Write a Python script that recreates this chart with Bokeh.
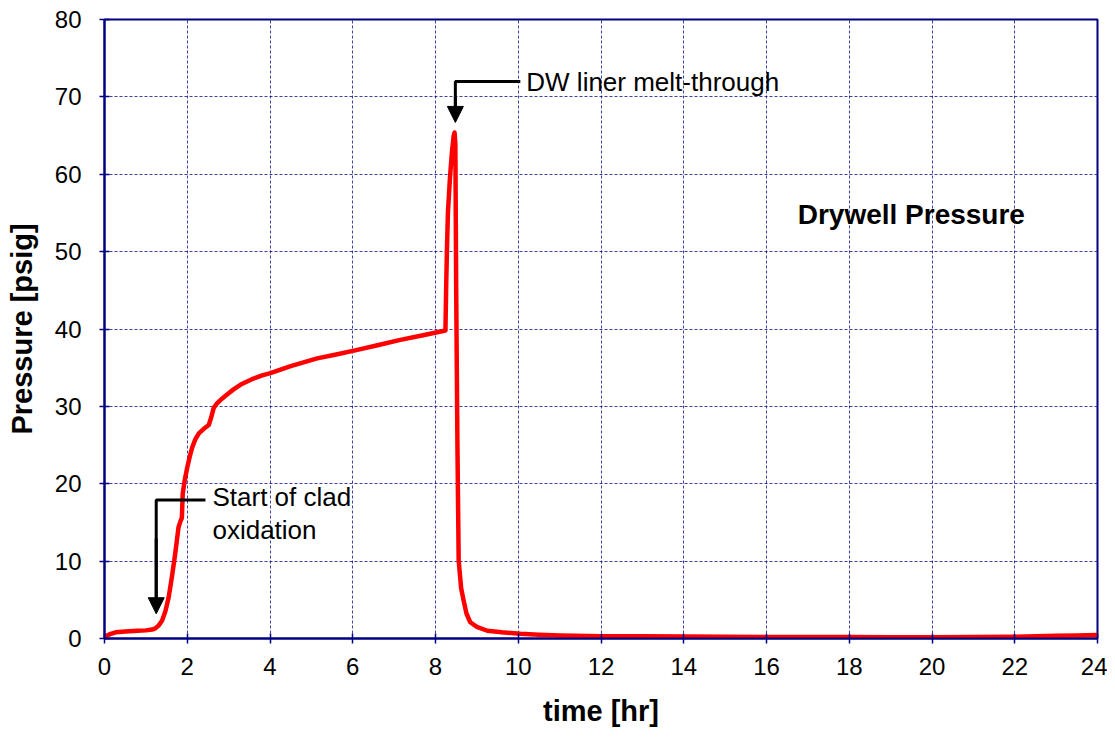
from bokeh.plotting import figure
from bokeh.models import Range1d, Label, Arrow, NormalHead, FixedTicker
from bokeh.embed import file_html
from bokeh.resources import INLINE

# Drywell pressure [psig] vs time [hr]
time_hr = [0.0, 0.05, 0.15, 0.27, 0.5, 0.8, 1.0, 1.15, 1.23, 1.31, 1.39, 1.47, 1.55, 1.63, 1.71,
           1.79, 1.84, 1.87, 1.89, 1.94, 2.0, 2.06, 2.12, 2.2, 2.28, 2.4, 2.52, 2.58, 2.64, 2.72,
           2.84, 3.0, 3.12, 3.32, 3.6, 3.81, 4.01, 4.5, 5.14, 5.6, 6.03, 6.6, 7.15, 7.7, 8.24,
           8.26, 8.28, 8.3, 8.35, 8.4, 8.44, 8.46, 8.48, 8.5, 8.53, 8.56, 8.62, 8.68, 8.75, 8.84,
           9.0, 9.25, 9.6, 10.05, 10.5, 11.0, 12.0, 13.0, 14.0, 15.0, 16.0, 17.0, 18.0, 19.0,
           20.0, 21.0, 22.0, 22.5, 23.0, 23.5, 24.0]
pressure_psig = [0.0, 0.35, 0.6, 0.8, 0.9, 1.0, 1.05, 1.15, 1.3, 1.7, 2.3, 3.5, 5.3, 8.0, 11.0,
                 14.4, 15.2, 15.6, 18.7, 20.5, 22.1, 23.5, 24.7, 25.8, 26.5, 27.1, 27.6, 28.6,
                 29.8, 30.4, 31.0, 31.7, 32.2, 32.9, 33.6, 34.0, 34.3, 35.2, 36.2, 36.7, 37.2,
                 37.9, 38.6, 39.2, 39.8, 46.0, 51.0, 55.0, 59.6, 63.0, 65.0, 65.4, 64.0, 45.0,
                 25.0, 10.1, 6.5, 4.9, 3.2, 2.1, 1.5, 1.0, 0.8, 0.6, 0.5, 0.4, 0.3, 0.28, 0.25,
                 0.22, 0.2, 0.2, 0.18, 0.17, 0.15, 0.18, 0.22, 0.28, 0.35, 0.4, 0.45]

x_ticks = list(range(0, 25, 2))
y_ticks = list(range(0, 81, 10))

# annotation anchors (data units)
clad_arrow_x = 1.25
clad_arrow_top = 17.9
clad_arrow_tip = 3.2
clad_leader_end = 2.44
dw_arrow_x = 8.48
dw_arrow_top = 72.0
dw_arrow_tip = 66.7
dw_leader_end = 10.05
title_x = 19.5
title_y = 54.8

NAVY = "#000080"

p = figure(width=1107, height=735, output_backend="svg", toolbar_location=None,
           x_range=Range1d(0, 24), y_range=Range1d(0, 80),
           min_border_left=104, min_border_right=10, min_border_top=19, min_border_bottom=97)

p.background_fill_color = "white"
p.border_fill_color = "white"
p.outline_line_color = NAVY
p.outline_line_width = 2

for ax in (p.xaxis[0], p.yaxis[0]):
    ax.axis_line_color = NAVY
    ax.axis_line_width = 2
    ax.major_tick_line_color = NAVY
    ax.major_tick_line_width = 1.5
    ax.major_tick_in = 5
    ax.major_tick_out = 5
    ax.minor_tick_line_color = None
    ax.major_label_text_font = "Liberation Sans"
    ax.major_label_text_font_size = "24px"
    ax.major_label_text_color = "black"
    ax.axis_label_text_font = "Liberation Sans"
    ax.axis_label_text_font_size = "29px"
    ax.axis_label_text_font_style = "bold"
    ax.axis_label_text_color = "black"

p.xaxis.ticker = FixedTicker(ticks=x_ticks)
p.yaxis.ticker = FixedTicker(ticks=y_ticks)
p.xaxis.axis_label = "time [hr]"
p.yaxis.axis_label = "Pressure [psig]"
p.xaxis.major_label_standoff = 14
p.yaxis.major_label_standoff = 18
p.xaxis.axis_label_standoff = 17
p.yaxis.axis_label_standoff = 14

for g in (p.xgrid[0], p.ygrid[0]):
    g.grid_line_color = NAVY
    g.grid_line_dash = "3 2"
    g.grid_line_width = 1
    g.grid_line_alpha = 0.75

p.line(time_hr, pressure_psig, line_color="#ff0000", line_width=4.5, line_join="round")

# Start of clad oxidation arrow
p.line([clad_leader_end, clad_arrow_x, clad_arrow_x], [clad_arrow_top, clad_arrow_top, clad_arrow_tip + 1],
       line_color="black", line_width=3)
p.add_layout(Arrow(end=NormalHead(size=16, fill_color="black", line_color="black"),
                   x_start=clad_arrow_x, y_start=clad_arrow_top - 5,
                   x_end=clad_arrow_x, y_end=clad_arrow_tip,
                   line_color="black", line_width=3))
p.add_layout(Label(x=clad_leader_end, y=clad_arrow_top, text="Start of clad\noxidation",
                   x_offset=7, y_offset=18, text_font="Liberation Sans", text_font_size="26px",
                   text_color="black", text_baseline="top", text_line_height=1.1))

# DW liner melt-through arrow
p.line([dw_leader_end, dw_arrow_x, dw_arrow_x], [dw_arrow_top, dw_arrow_top, dw_arrow_tip + 1],
       line_color="black", line_width=3)
p.add_layout(Arrow(end=NormalHead(size=16, fill_color="black", line_color="black"),
                   x_start=dw_arrow_x, y_start=dw_arrow_top - 2,
                   x_end=dw_arrow_x, y_end=dw_arrow_tip,
                   line_color="black", line_width=3))
p.add_layout(Label(x=dw_leader_end, y=dw_arrow_top, text="DW liner melt-through",
                   x_offset=6, y_offset=-1, text_font="Liberation Sans", text_font_size="26px",
                   text_color="black", text_baseline="middle"))

p.add_layout(Label(x=title_x, y=title_y, text="Drywell Pressure", text_font="Liberation Sans",
                   text_font_size="28px", text_font_style="bold", text_color="black",
                   text_align="center", text_baseline="middle"))

open("out.html", "w").write(file_html(p, INLINE))
